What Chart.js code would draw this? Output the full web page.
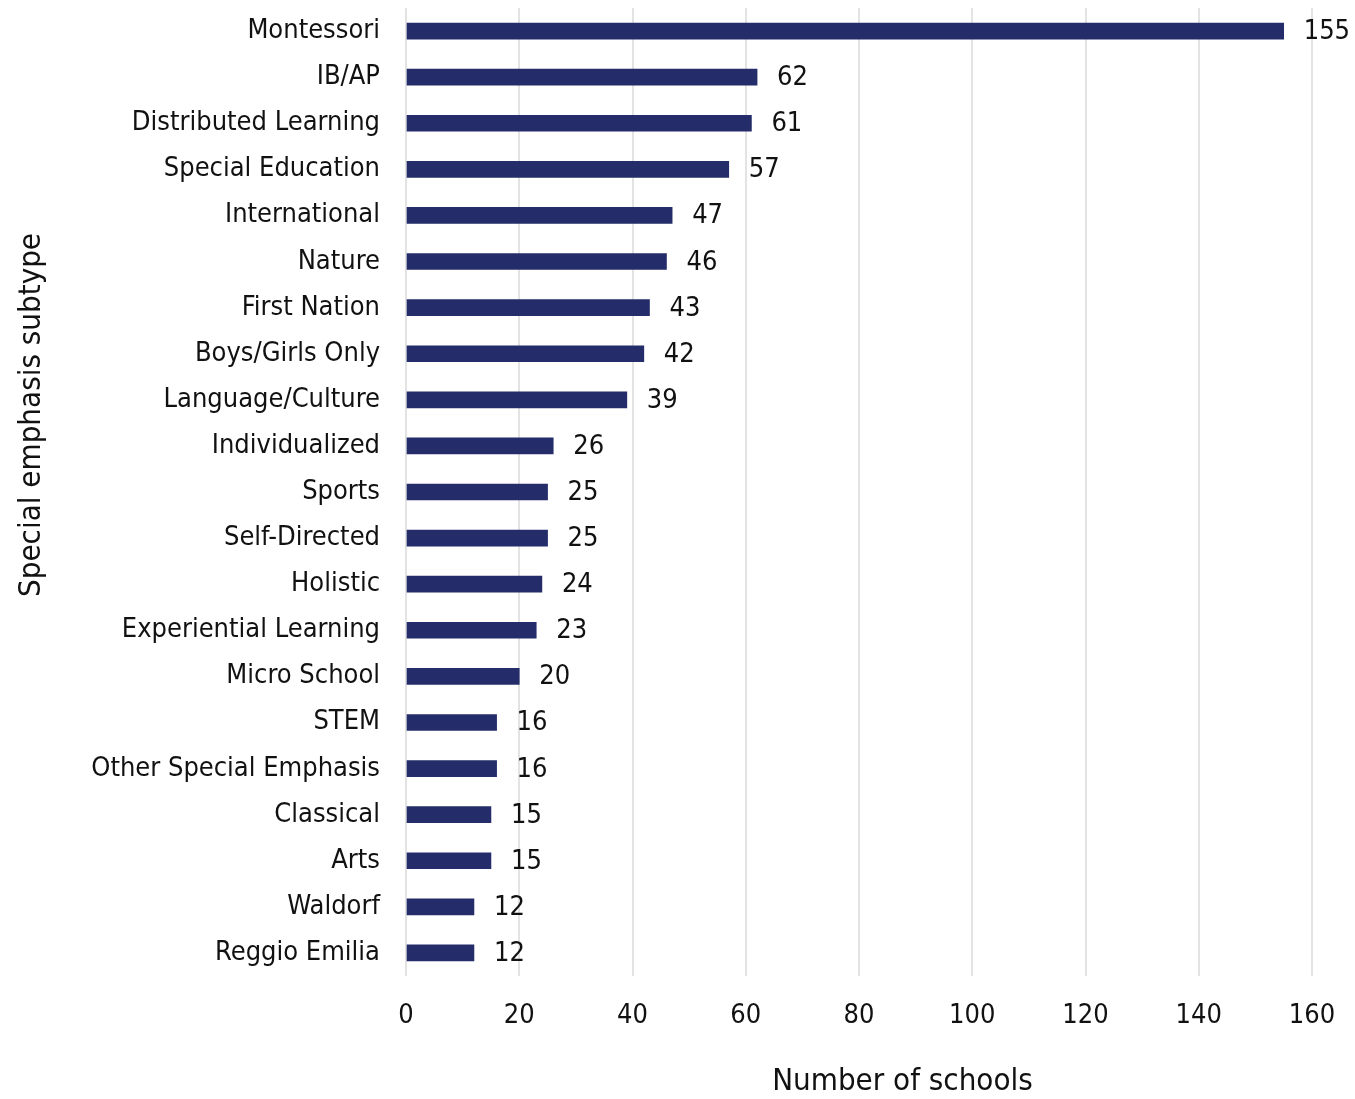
<!DOCTYPE html>
<html>
<head>
<meta charset="utf-8">
<script src="https://cdn.jsdelivr.net/npm/chart.js@4"></script>
<style>
  html, body { margin: 0; padding: 0; background: #fff; }
  #wrap { width: 1355px; height: 1099px; }
</style>
</head>
<body>
<div id="wrap"><canvas id="chart"></canvas></div>
<script>
// --- data ---
const categories = [
  "Montessori", "IB/AP", "Distributed Learning", "Special Education", "International",
  "Nature", "First Nation", "Boys/Girls Only", "Language/Culture", "Individualized",
  "Sports", "Self-Directed", "Holistic", "Experiential Learning", "Micro School",
  "STEM", "Other Special Emphasis", "Classical", "Arts", "Waldorf", "Reggio Emilia"
];
const schoolCounts = [155, 62, 61, 57, 47, 46, 43, 42, 39, 26, 25, 25, 24, 23, 20, 16, 16, 15, 15, 12, 12];
const xTicks = [0, 20, 40, 60, 80, 100, 120, 140, 160];
const xTitle = "Number of schools";
const yTitle = "Special emphasis subtype";

const FONT = "'DejaVu Sans Condensed', 'Liberation Sans Narrow', sans-serif";
const INK = '#111111';
const BAR = '#252c6a';

// value labels at bar ends
const valueLabels = {
  id: 'valueLabels',
  afterDatasetsDraw(chart) {
    const ctx = chart.ctx;
    const meta = chart.getDatasetMeta(0);
    ctx.save();
    ctx.font = `27px ${FONT}`;
    ctx.fillStyle = INK;
    ctx.textAlign = 'left';
    ctx.textBaseline = 'middle';
    meta.data.forEach((bar, i) => {
      ctx.fillText(String(schoolCounts[i]), bar.x + 20, bar.y + 1);
    });
    ctx.restore();
  }
};

// axis titles (placed off-centre like the original)
const axisTitles = {
  id: 'axisTitles',
  afterDraw(chart) {
    const ctx = chart.ctx;
    const a = chart.chartArea;
    ctx.save();
    ctx.font = `31px ${FONT}`;
    ctx.fillStyle = INK;
    ctx.textAlign = 'center';
    ctx.textBaseline = 'middle';
    ctx.fillText(xTitle, a.left + (a.right - a.left) * 0.548, 1082);
    ctx.translate(32, 415);
    ctx.rotate(-Math.PI / 2);
    ctx.fillText(yTitle, 0, 0);
    ctx.restore();
  }
};

new Chart(document.getElementById('chart'), {
  type: 'bar',
  data: {
    labels: categories,
    datasets: [{
      data: schoolCounts,
      backgroundColor: BAR,
      barThickness: 16
    }]
  },
  options: {
    indexAxis: 'y',
    responsive: true,
    maintainAspectRatio: false,
    animation: false,
    layout: { padding: { top: 8, right: 43, left: 0, bottom: 0 } },
    plugins: {
      legend: { display: false },
      tooltip: { enabled: false }
    },
    scales: {
      x: {
        min: 0, max: 160,
        afterBuildTicks: s => { s.ticks = xTicks.map(v => ({ value: v })); },
        afterFit: s => { s.height = 123; s.paddingLeft = 0; s.paddingRight = 0; },
        grid: { color: '#e3e3e3', lineWidth: 2, drawTicks: false },
        border: { display: false },
        ticks: { color: INK, padding: 24, font: { family: FONT, size: 27 } }
      },
      y: {
        afterFit: s => { s.width = 406; s.paddingTop = 0; s.paddingBottom = 0; },
        grid: { display: false, drawTicks: false },
        border: { display: false },
        ticks: { color: INK, padding: 26, font: { family: FONT, size: 27 } }
      }
    }
  },
  plugins: [valueLabels, axisTitles]
});
</script>
</body>
</html>
